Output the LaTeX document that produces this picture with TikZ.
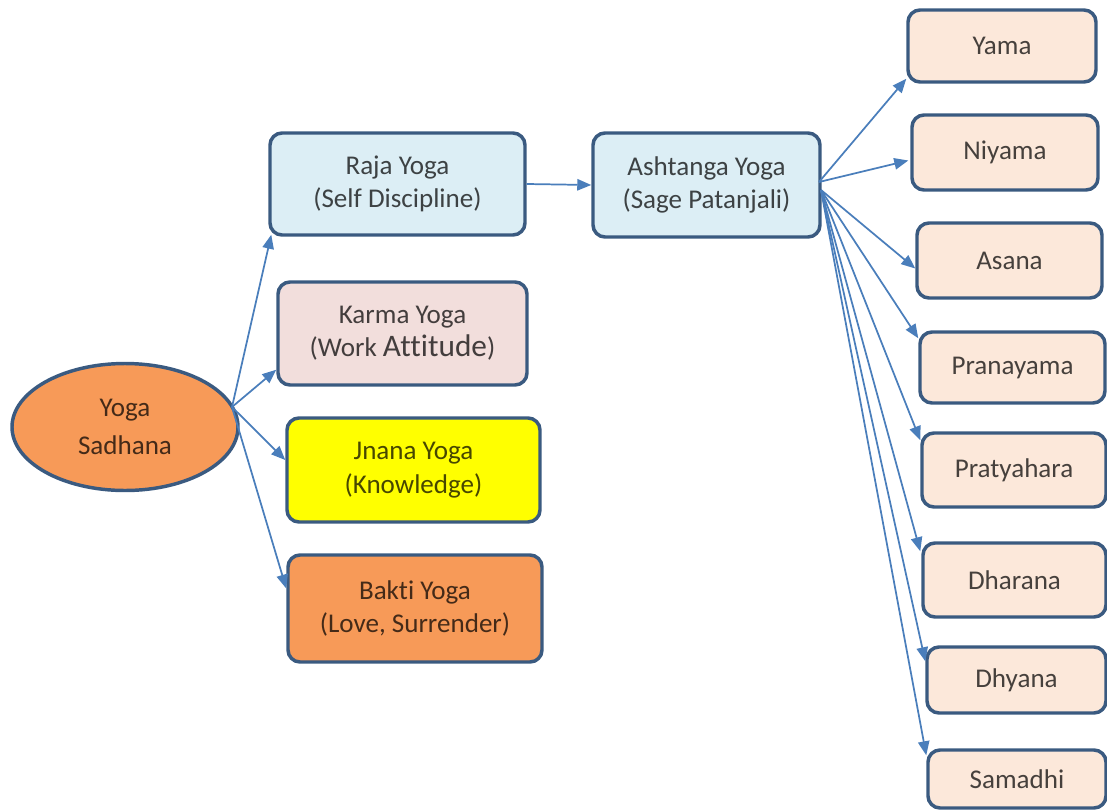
\documentclass[tikz,border=0pt]{standalone}
\usepackage{fontspec}
\setmainfont{Carlito}[Ligatures=NoCommon]
\usetikzlibrary{arrows.meta,shapes.geometric,calc}
\definecolor{bord}{HTML}{3A5A80}
\definecolor{arr}{HTML}{4A7EBB}
\definecolor{lblue}{HTML}{DCEEF5}
\definecolor{lpink}{HTML}{F2DEDC}
\definecolor{yel}{HTML}{FFFF00}
\definecolor{orng}{HTML}{F79A58}
\definecolor{peach}{HTML}{FCE8DA}
\tikzset{
  box/.style 2 args={draw=bord, line width=2.6pt, rounded corners=9pt,
    minimum width=#1*0.75pt, minimum height=#2*0.75pt, inner sep=0pt,
    align=center, text=black, text opacity=0.72,
    font=\fontsize{20.3}{25}\selectfont},
  conn/.style={draw=arr, line width=1.3pt, -{Triangle[length=10.5pt,width=8.5pt]}}
}
\begin{document}
\begin{tikzpicture}[x=0.75pt,y=-0.75pt]
\useasboundingbox (0,0) rectangle (1107,811);
% left ellipse
\node[ellipse, draw=bord, line width=2.6pt, fill=orng, minimum width=226*0.75pt,
  minimum height=127*0.75pt, inner sep=0pt, align=center, text=black, text opacity=0.72,
  font=\fontsize{20.3}{28}\selectfont] (ys) at (125,427) {Yoga\\Sadhana};
% middle boxes
\node[box={255}{102}, fill=lblue] (raja) at (397.5,184) {Raja Yoga\\(Self Discipline)};
\node[box={249}{103}, fill=lpink] (karma) at (402.5,333.5) {Karma Yoga\\(Work {\fontsize{23.5}{25}\selectfont Attitude})};
\node[box={253}{104}, fill=yel] (jnana) at (413.5,470) {Jnana Yoga\\(Knowledge)};
\node[box={254}{107}, fill=orng] (bakti) at (415,608.5) {Bakti Yoga\\(Love, Surrender)};
\node[box={227}{104}, fill=lblue] (asht) at (706.5,185) {Ashtanga Yoga\\(Sage Patanjali)};
% right boxes
\node[box={188}{72}, fill=peach] (yama) at (1002,46) {Yama};
\node[box={186}{75}, fill=peach] (niyama) at (1005,152.5) {Niyama};
\node[box={185}{75}, fill=peach] (asana) at (1009.5,260.5) {Asana};
\node[box={185}{71}, fill=peach] (prana) at (1012.5,367.5) {Pranayama};
\node[box={184}{74}, fill=peach] (praty) at (1014,470) {Pratyahara};
\node[box={183}{74}, fill=peach] (dhara) at (1014.5,580) {Dharana};
\node[box={179}{66}, fill=peach] (dhya) at (1016.5,680) {Dhyana};
\node[box={178}{58}, fill=peach] (sama) at (1017,779) {Samadhi};
% start points
\coordinate (ysO) at (232,407);
\coordinate (ashA) at (819,182);
\coordinate (ashB) at (821,190);
% connectors from Yoga Sadhana
\draw[conn] (ysO) -- ([shift={(3,-2)}]raja.south west);
\draw[conn] (ysO) -- ([shift={(0,-17)}]karma.south west);
\draw[conn] (ysO) -- ([shift={(0,-10)}]jnana.west);
\draw[conn] (ysO) -- ([shift={(0,-20)}]bakti.west);
% Raja -> Ashtanga
\draw[conn] (raja.east) -- (asht.west);
% Ashtanga -> eight limbs
\draw[conn] (ashA) -- ([shift={(0,-5)}]yama.south west);
\draw[conn] (ashA) -- ([shift={(-2,8)}]niyama.west);
\draw[conn] (ashB) -- ([shift={(0,8)}]asana.west);
\draw[conn] (ashB) -- ([shift={(0,8)}]prana.north west);
\draw[conn] (ashB) -- ([shift={(0,9)}]praty.north west);
\draw[conn] (ashB) -- ([shift={(-1,10)}]dhara.north west);
\draw[conn] (ashB) -- ([shift={(0,16)}]dhya.north west);
\draw[conn] (ashB) -- ([shift={(0,7)}]sama.north west);
\end{tikzpicture}
\end{document}
